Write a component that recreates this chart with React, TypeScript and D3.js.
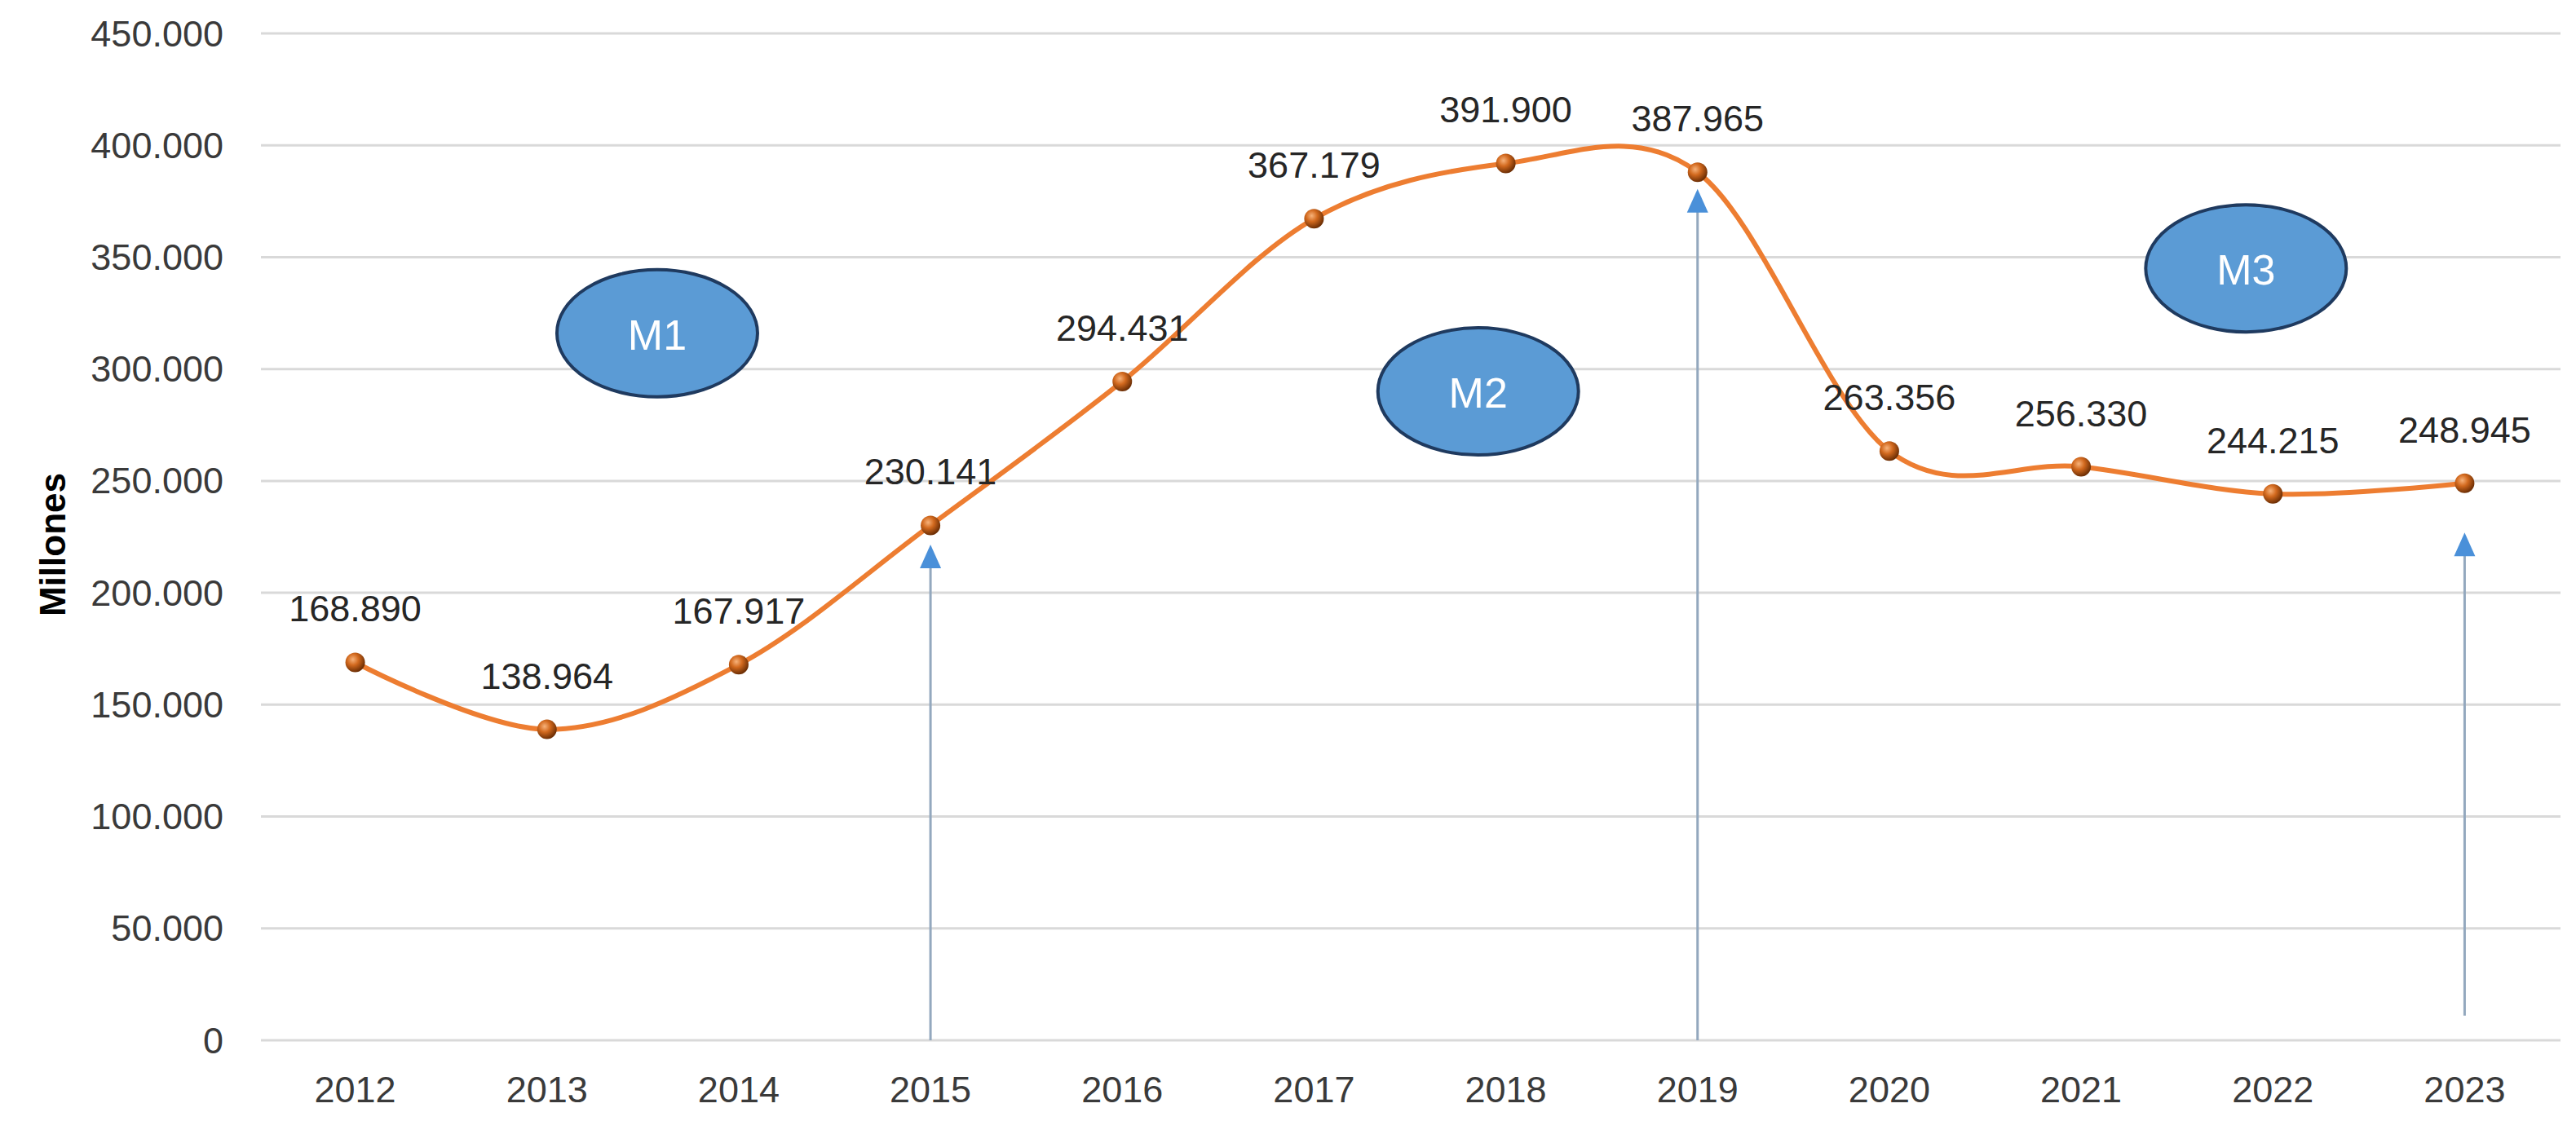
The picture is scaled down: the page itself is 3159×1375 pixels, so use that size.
import { scaleBand, scaleLinear, line, curveCardinal } from 'd3';

const years = ['2012', '2013', '2014', '2015', '2016', '2017', '2018', '2019', '2020', '2021', '2022', '2023'];
const values = [168890, 138964, 167917, 230141, 294431, 367179, 391900, 387965, 263356, 256330, 244215, 248945];
const valueLabels = ['168.890', '138.964', '167.917', '230.141', '294.431', '367.179', '391.900', '387.965', '263.356', '256.330', '244.215', '248.945'];
const yTicks = [0, 50000, 100000, 150000, 200000, 250000, 300000, 350000, 400000, 450000];
const yTickLabels = ['0', '50.000', '100.000', '150.000', '200.000', '250.000', '300.000', '350.000', '400.000', '450.000'];

// periods marked with ellipses (position in category index / value units)
const periodNames = ['M1', 'M2', 'M3'];
const periodIndex = [1.575, 5.856, 9.86];
const periodValue = [316000, 290000, 345000];

// arrows pointing up at period limits
const arrowYears = ['2015', '2019', '2023'];
const arrowTip = [221500, 380500, 226900];
const arrowFrom = [0, 0, 11000];

const W = 3159;
const H = 1375;
const font = '"Liberation Sans", Arial, sans-serif';

export default function App() {
  const x = scaleBand<string>().domain(years).range([318, 3140]).padding(0);
  const xc = (d: string) => (x(d) ?? 0) + x.bandwidth() / 2;
  const xi = scaleLinear().domain([0, years.length - 1]).range([xc(years[0]), xc(years[years.length - 1])]);
  const y = scaleLinear().domain([0, 450000]).range([1276, 41]);

  const pts: Array<[number, number]> = years.map((d, i) => [xc(d), y(values[i])]);
  const path = line().curve(curveCardinal.tension(0))(pts) ?? '';

  const headH = 29;
  const headW = 13;

  return (
    <svg width={W} height={H} style={{ position: 'absolute', left: 0, top: 0, display: 'block', background: '#fff' }}>
      <defs>
        <radialGradient id="ball" cx="38%" cy="35%" r="65%">
          <stop offset="0%" stopColor="#F7B27A" />
          <stop offset="45%" stopColor="#D2691E" />
          <stop offset="100%" stopColor="#6E2F05" />
        </radialGradient>
      </defs>

      {/* gridlines */}
      <g>
        {yTicks.map(t => (
          <line key={t} x1={320} x2={3140} y1={y(t)} y2={y(t)} stroke="#D9D9D9" strokeWidth={3} />
        ))}
      </g>

      {/* y tick labels */}
      <g fontFamily={font} fontSize={45} fill="#3a3a3a" textAnchor="end">
        {yTicks.map((t, i) => (
          <text key={t} x={274} y={y(t)} dominantBaseline="central">{yTickLabels[i]}</text>
        ))}
      </g>

      {/* x labels */}
      <g fontFamily={font} fontSize={45} fill="#3a3a3a" textAnchor="middle">
        {years.map(d => (
          <text key={d} x={xc(d)} y={1352}>{d}</text>
        ))}
      </g>

      <text transform="translate(80,668) rotate(-90)" textAnchor="middle" fontFamily={font}
        fontWeight="bold" fontSize={44} fill="#000">Millones</text>

      {/* arrows */}
      <g>
        {arrowYears.map((d, i) => {
          const ax = xc(d);
          const tip = y(arrowTip[i]);
          return (
            <g key={d}>
              <line x1={ax} x2={ax} y1={y(arrowFrom[i])} y2={tip + headH - 2} stroke="#93A8BE" strokeWidth={3} />
              <path d={`M${ax},${tip} L${ax + headW},${tip + headH} L${ax - headW},${tip + headH} Z`} fill="#4A90D9" />
            </g>
          );
        })}
      </g>

      {/* period ellipses */}
      <g>
        {periodNames.map((n, i) => (
          <g key={n}>
            <ellipse cx={xi(periodIndex[i])} cy={y(periodValue[i])} rx={123} ry={78}
              fill="#5B9BD5" stroke="#1F3A5F" strokeWidth={4} />
            <text x={xi(periodIndex[i])} y={y(periodValue[i])} dy={2} textAnchor="middle" dominantBaseline="central"
              fontFamily={font} fontSize={52} fill="#fff">{n}</text>
          </g>
        ))}
      </g>

      {/* series */}
      <path d={path} fill="none" stroke="#ED7D31" strokeWidth={6} />
      <g>
        {pts.map((p, i) => (
          <circle key={years[i]} cx={p[0]} cy={p[1]} r={12} fill="url(#ball)" />
        ))}
      </g>

      {/* data labels */}
      <g fontFamily={font} fontSize={45} fill="#262626" textAnchor="middle">
        {pts.map((p, i) => (
          <text key={years[i]} x={p[0]} y={p[1] - 50}>{valueLabels[i]}</text>
        ))}
      </g>
    </svg>
  );
}
